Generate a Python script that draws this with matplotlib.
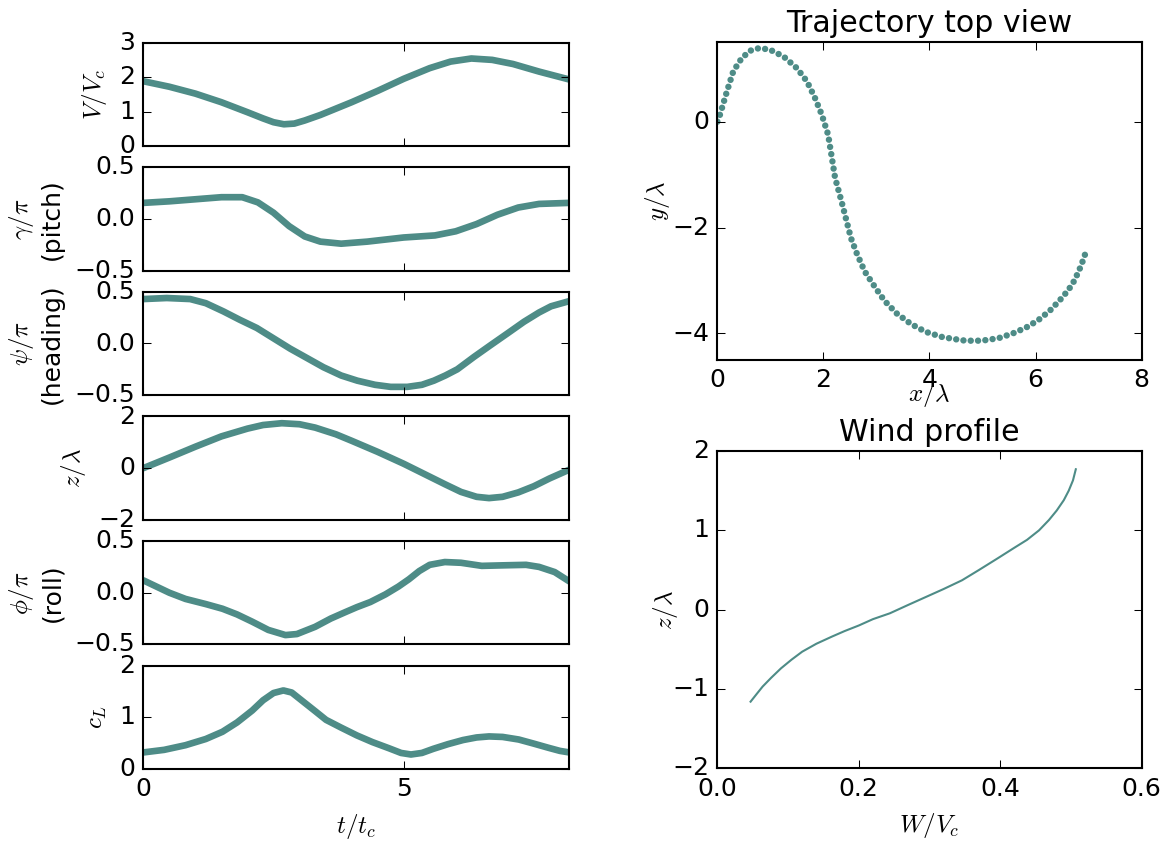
import matplotlib
matplotlib.use('Agg')
import matplotlib.pyplot as plt

plt.style.use('classic')

teal = '#4e8c87'

# time histories
t_V = [0, 0.5, 1.0, 1.5, 2.0, 2.3, 2.5, 2.7, 2.9, 3.1, 3.4, 4.0, 4.5, 5.0, 5.5, 5.9, 6.3, 6.7, 7.1, 7.6, 8.18]
V = [1.88, 1.72, 1.52, 1.27, 0.98, 0.80, 0.69, 0.63, 0.65, 0.74, 0.90, 1.27, 1.60, 1.95, 2.26, 2.45, 2.54, 2.50, 2.38, 2.16, 1.93]

t_gamma = [0, 0.5, 1.0, 1.5, 1.9, 2.2, 2.5, 2.8, 3.1, 3.4, 3.8, 4.3, 5.0, 5.6, 6.0, 6.4, 6.8, 7.2, 7.6, 8.18]
gamma = [0.155, 0.17, 0.19, 0.21, 0.21, 0.16, 0.06, -0.07, -0.17, -0.22, -0.24, -0.22, -0.18, -0.16, -0.12, -0.05, 0.04, 0.11, 0.145, 0.155]

t_psi = [0, 0.45, 0.9, 1.2, 1.54, 1.85, 2.18, 2.5, 2.82, 3.14, 3.46, 3.8, 4.11, 4.45, 4.75, 5.07,
         5.35, 5.58, 5.8, 6.03, 6.35, 6.67, 7.0, 7.31, 7.6, 7.83, 8.18]
psi = [0.43, 0.44, 0.43, 0.39, 0.31, 0.23, 0.15, 0.05, -0.05, -0.14, -0.23, -0.31, -0.36, -0.40, -0.42, -0.42,
       -0.40, -0.36, -0.31, -0.25, -0.13, -0.016, 0.10, 0.21, 0.30, 0.36, 0.41]

t_z = [0, 0.5, 1.0, 1.5, 2.0, 2.3, 2.66, 3.0, 3.3, 3.7, 4.0, 4.5, 5.0, 5.5, 5.8, 6.1, 6.4, 6.64, 6.9, 7.2, 7.5, 7.8, 8.18]
z = [0.0, 0.41, 0.83, 1.23, 1.53, 1.67, 1.74, 1.70, 1.57, 1.31, 1.06, 0.63, 0.17, -0.33, -0.63, -0.92, -1.11, -1.16,
     -1.11, -0.94, -0.70, -0.40, -0.06]

t_phi = [0, 0.25, 0.5, 0.81, 1.2, 1.52, 1.8, 2.09, 2.4, 2.73, 2.95, 3.3, 3.6, 3.87, 4.1, 4.36, 4.65, 4.9, 5.1,
         5.3, 5.5, 5.79, 6.1, 6.5, 6.9, 7.35, 7.6, 7.9, 8.18]
phi = [0.12, 0.06, 0.0, -0.06, -0.11, -0.155, -0.21, -0.28, -0.36, -0.41, -0.40, -0.33, -0.25, -0.19, -0.14, -0.09,
       -0.016, 0.06, 0.13, 0.21, 0.27, 0.297, 0.29, 0.26, 0.265, 0.27, 0.25, 0.20, 0.11]

t_cL = [0, 0.4, 0.81, 1.2, 1.52, 1.8, 2.09, 2.3, 2.5, 2.69, 2.85, 3.05, 3.3, 3.51, 3.8, 4.1, 4.4, 4.72, 4.95,
        5.14, 5.35, 5.57, 5.85, 6.14, 6.4, 6.64, 6.9, 7.21, 7.5, 7.78, 8.0, 8.18]
cL = [0.32, 0.37, 0.46, 0.58, 0.72, 0.90, 1.13, 1.33, 1.47, 1.52, 1.48, 1.32, 1.12, 0.95, 0.80, 0.65, 0.52, 0.40, 0.31,
      0.28, 0.31, 0.39, 0.48, 0.56, 0.61, 0.63, 0.62, 0.57, 0.49, 0.41, 0.35, 0.32]

# trajectory top view
x_traj = [0, 0.04, 0.18, 0.30, 0.46, 0.62, 0.79, 0.99, 1.25, 1.50, 1.69, 1.84, 1.97, 2.09, 2.22, 2.34,
          2.43, 2.52, 2.63, 2.78, 2.97, 3.15, 3.38, 3.65, 3.93, 4.25, 4.62, 4.85, 5.03, 5.3, 5.57,
          5.82, 6.05, 6.27, 6.46, 6.62, 6.74, 6.86, 6.94]
y_traj = [0, 0.10, 0.57, 0.95, 1.20, 1.34, 1.39, 1.36, 1.23, 1.01, 0.76, 0.45, 0.13, -0.25, -1.06, -1.5,
          -1.85, -2.2, -2.49, -2.83, -3.12, -3.38, -3.62, -3.82, -3.97, -4.07, -4.13, -4.14, -4.13, -4.09, -4.0,
          -3.89, -3.75, -3.57, -3.37, -3.18, -2.99, -2.72, -2.49]

# wind profile
W = [0.047, 0.055, 0.064, 0.076, 0.090, 0.105, 0.12, 0.14, 0.162, 0.18, 0.20, 0.22, 0.244, 0.27, 0.295,
     0.32, 0.346, 0.37, 0.397, 0.42, 0.438, 0.455, 0.469, 0.48, 0.49, 0.497, 0.503, 0.507]
z_wind = [-1.16, -1.07, -0.97, -0.86, -0.74, -0.63, -0.53, -0.43, -0.34, -0.27, -0.20, -0.12, -0.046, 0.06, 0.16,
          0.26, 0.37, 0.50, 0.65, 0.78, 0.88, 1.0, 1.13, 1.25, 1.38, 1.50, 1.63, 1.77]

series = [
    (t_V, V, '$V/V_c$', (0, 3), [0, 1, 2, 3]),
    (t_gamma, gamma, '$\\gamma/\\pi$\n(pitch)', (-0.5, 0.5), [-0.5, 0.0, 0.5]),
    (t_psi, psi, '$\\psi/\\pi$\n(heading)', (-0.5, 0.5), [-0.5, 0.0, 0.5]),
    (t_z, z, '$z/\\lambda$', (-2, 2), [-2, 0, 2]),
    (t_phi, phi, '$\\phi/\\pi$\n(roll)', (-0.5, 0.5), [-0.5, 0.0, 0.5]),
    (t_cL, cL, '$c_L$', (0, 2), [0, 1, 2]),
]

fig = plt.figure(figsize=(7.78, 5.627), dpi=150)

bottoms = [0.8270, 0.6794, 0.5318, 0.3841, 0.2365, 0.0889]
for i, (tt, yy, lab, lim, ticks) in enumerate(series):
    ax = fig.add_axes([0.1228, bottoms[i], 0.3650, 0.1224])
    ax.plot(tt, yy, color=teal, lw=3.2, solid_capstyle='round', solid_joinstyle='round')
    ax.set_xlim(0, 8.18)
    ax.set_ylim(*lim)
    ax.set_yticks(ticks)
    ax.set_xticks([0, 5])
    ax.set_ylabel(lab)
    if i < len(series) - 1:
        ax.set_xticklabels([])
    else:
        ax.set_xlabel('$t/t_c$')

ax = fig.add_axes([0.6147, 0.5735, 0.3635, 0.3764])
ax.plot(x_traj, y_traj, color=teal, lw=3.1, linestyle=(0, (0.01, 3.5)),
        dash_capstyle='round')
ax.set_xlim(0, 8)
ax.set_ylim(-4.5, 1.5)
ax.set_xticks([0, 2, 4, 6, 8])
ax.set_yticks([-4, -2, 0])
ax.set_xlabel('$x/\\lambda$', labelpad=-6)
ax.set_ylabel('$y/\\lambda$', labelpad=0)
ax.set_title('Trajectory top view')

ax = fig.add_axes([0.6147, 0.0897, 0.3635, 0.3759])
ax.plot(W, z_wind, color=teal, lw=1.0)
ax.set_xlim(0, 0.6)
ax.set_ylim(-2, 2)
ax.set_xticks([0.0, 0.2, 0.4, 0.6])
ax.set_yticks([-2, -1, 0, 1, 2])
ax.set_xlabel('$W/V_c$')
ax.set_ylabel('$z/\\lambda$', labelpad=-4)
ax.set_title('Wind profile')

fig.savefig('out.png', dpi=150)
